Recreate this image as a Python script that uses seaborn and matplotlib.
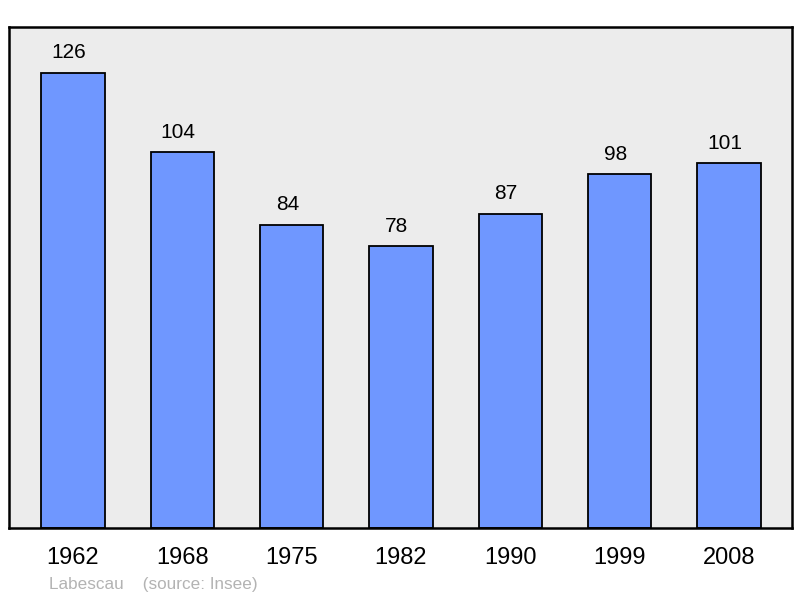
import matplotlib.pyplot as plt
import pandas as pd
import seaborn as sns

# Data
years = ["1962", "1968", "1975", "1982", "1990", "1999", "2008"]
population = [126, 104, 84, 78, 87, 98, 101]

df = pd.DataFrame({"year": years, "population": population})

sns.set_style("white")
plt.rcParams["font.family"] = ["Liberation Sans", "DejaVu Sans"]

fig = plt.figure(figsize=(8, 5.98), dpi=100)
ax = fig.add_axes([9 / 800, 70 / 598, 783 / 800, 501 / 598])
ax.set_facecolor("#ececec")

sns.barplot(data=df, x="year", y="population", color="#6f97ff", saturation=1,
            width=0.58, edgecolor="black", linewidth=1.3, ax=ax)

ax.set_xlim(-0.585, 6.576)
ax.set_ylim(0, 138.7)

# value labels above bars
for i, v in enumerate(population):
    ax.annotate(str(v), (i, v), xytext=(-3, 7.5), textcoords="offset points",
                ha="center", va="bottom", fontsize=15, color="black")

ax.set_yticks([])
ax.tick_params(axis="x", length=0, pad=14, labelsize=17, labelcolor="black")
ax.set_xlabel("")
ax.set_ylabel("")
for s in ax.spines.values():
    s.set_visible(True)
    s.set_linewidth(1.8)
    s.set_color("black")

fig.text(49 / 800, 1 - 584 / 598, "Labescau    (source: Insee)",
         fontsize=12.3, color="#b3b3b3", va="center", ha="left")

fig.savefig("out.png", dpi=100)
